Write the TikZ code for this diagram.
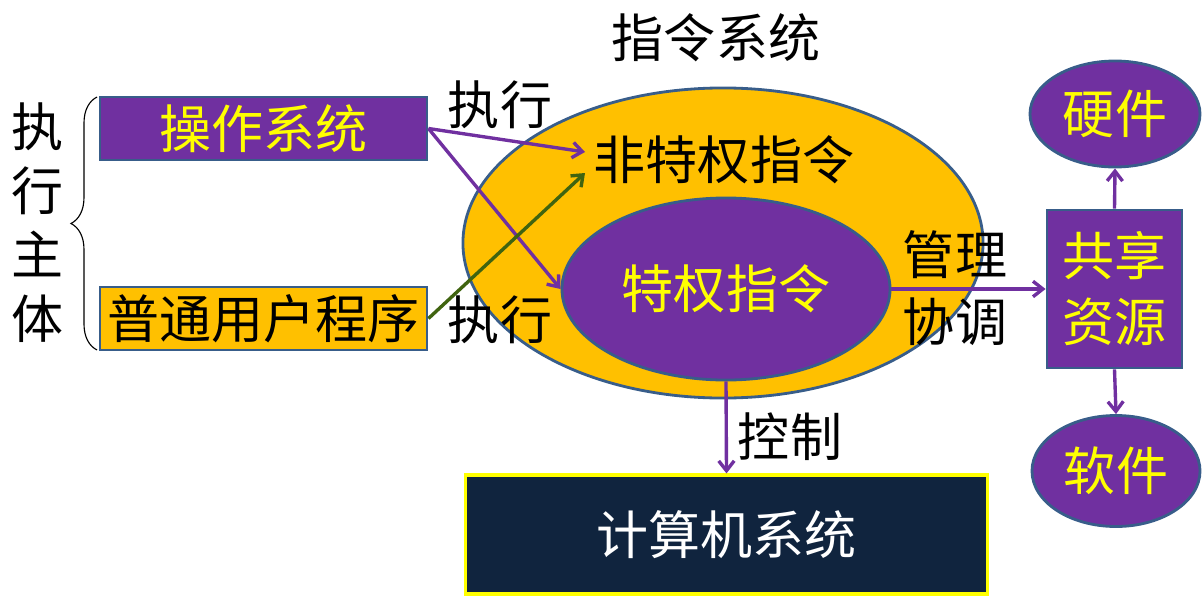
\documentclass[tikz,border=0pt]{standalone}
\usepackage{fontspec}
\setmainfont{Noto Sans CJK SC}
\usepackage{tikz}
\usetikzlibrary{arrows.meta,shapes.geometric,decorations.pathreplacing}
\definecolor{violet}{RGB}{112,48,160}
\definecolor{gold}{RGB}{255,192,0}
\definecolor{edge}{RGB}{56,93,138}
\definecolor{navy}{RGB}{16,36,62}
\definecolor{leaf}{RGB}{64,100,16}
\definecolor{lemon}{RGB}{255,255,0}

\begin{document}
\begin{tikzpicture}[x=.025cm,y=-.025cm,
  big/.style={font=\fontsize{37}{44}\selectfont,inner sep=0pt},
  shade/.style={draw=edge,line width=2pt},
  link/.style={line width=2.4pt,-{Straight Barb[length=7pt,width=11pt]}}]
\useasboundingbox (0,0) rectangle (1202,598);
% instruction set
\node[big] (title) at (716,38) {指令系统};
\node[ellipse,shade,fill=gold,minimum width=13cm,minimum height=7.75cm] (outer) at (723,243) {};
\node[big] (nonpriv) at (724,160) {非特权指令};
\node[ellipse,shade,fill=violet,minimum width=8.2cm,minimum height=4.55cm,big,text=lemon] (priv) at (726,289) {特权指令};
\coordinate (hitos) at (585,152); \coordinate (hitusr) at (585,173);
% who executes
\node[shade,fill=violet,minimum width=8.175cm,minimum height=1.575cm,big,text=lemon] (os) at (263.5,128.5) {操作系统};
\node[shade,fill=gold,minimum width=8.175cm,minimum height=1.575cm,big] (usr) at (263.5,318.5) {普通用户程序};
\draw[decorate,decoration={brace,amplitude=.65cm},line width=.8pt] (97,350) -- (97,97);
\node[big,align=center,font=\fontsize{37}{45.5}\selectfont] (subject) at (38,223) {执\\行\\主\\体};
\node[big] (execa) at (500,105) {执行};
\node[big] (execb) at (500,320) {执行};
\draw[link,violet] (os.east) -- (hitos);
\draw[link,violet] (os.east) -- (priv.west);
\draw[link,leaf] (usr.east) -- (hitusr);
% shared resources
\node[shade,fill=violet,minimum width=3.375cm,minimum height=3.95cm,big,text=lemon,align=center,font=\fontsize{37}{47}\selectfont] (share) at (1114.5,289) {共享\\资源};
\node[ellipse,shade,fill=violet,minimum width=4.25cm,minimum height=2.65cm,big,text=lemon] (hw) at (1115,114) {硬件};
\node[ellipse,shade,fill=violet,minimum width=4.2cm,minimum height=2.775cm,big,text=lemon] (sw) at (1116,471) {软件};
\node[big] (manage) at (955,255) {管理};
\node[big] (coord) at (955,322) {协调};
\draw[link,violet] (priv.east) -- (share.west);
\draw[link,violet] (share.north) -- (hw.south);
\draw[link,violet] (share.south) -- (sw.north);
% computer
\node[draw=lemon,line width=2.2pt,fill=navy,minimum width=13.025cm,minimum height=2.975cm,big,text=white] (comp) at (726.5,534.5) {计算机系统};
\node[big] (ctrl) at (790,437) {控制};
\draw[link,violet] (priv.south) -- (comp.north);
\end{tikzpicture}
\end{document}
